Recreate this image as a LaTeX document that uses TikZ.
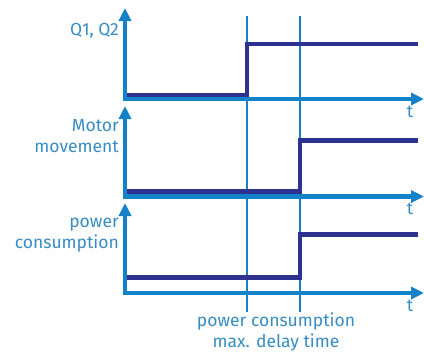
\documentclass[tikz,border=0pt]{standalone}
\usepackage{fontspec}
\setmainfont{Fira Sans}
\usetikzlibrary{arrows.meta}
\definecolor{axisblue}{RGB}{20,130,200}
\definecolor{sigblue}{RGB}{45,50,145}
\definecolor{txtblue}{RGB}{55,140,195}
\tikzset{
  axisline/.style={draw=axisblue,line width=4.5pt,-{Triangle[width=12pt,length=13pt]}},
  sigline/.style={draw=sigblue,line width=4.5pt,line join=miter,line cap=butt},
  markline/.style={draw=axisblue,line width=1.3pt},
  lbl/.style={text=txtblue,font=\fontsize{17.5}{21}\selectfont,inner sep=0pt},
}
\begin{document}
\begin{tikzpicture}[x=1pt,y=-1pt]
\useasboundingbox (0,0) rectangle (424,354);
% marker lines
\coordinate (m1t) at (247,16);
\coordinate (m1b) at (247,312);
\coordinate (m2t) at (300,16);
\coordinate (m2b) at (300,312);
\draw[markline] (m1t) -- (m1b);
\draw[markline] (m2t) -- (m2b);
% panel 1
\coordinate (o1) at (125,99);
\coordinate (y1) at (125,8);
\coordinate (x1) at (424,99);
\draw[axisline] (o1) -- (y1);
\draw[axisline] ([xshift=-2.25pt]o1) -- (x1);
\coordinate (s1a) at (127,95);
\coordinate (s1b) at (247,95);
\coordinate (s1c) at (247,44);
\coordinate (s1d) at (418,44);
\draw[sigline] (s1a) -- (s1b) -- (s1c) -- (s1d);
% panel 2
\coordinate (o2) at (125,196.5);
\coordinate (y2) at (125,106);
\coordinate (x2) at (424,196.5);
\draw[axisline] (o2) -- (y2);
\draw[axisline] ([xshift=-2.25pt]o2) -- (x2);
\coordinate (s2a) at (127,191.5);
\coordinate (s2b) at (300,191.5);
\coordinate (s2c) at (300,140.5);
\coordinate (s2d) at (418,140.5);
\draw[sigline] (s2a) -- (s2b) -- (s2c) -- (s2d);
% panel 3
\coordinate (o3) at (125,293);
\coordinate (y3) at (125,203);
\coordinate (x3) at (424,293);
\draw[axisline] (o3) -- (y3);
\draw[axisline] ([xshift=-2.25pt]o3) -- (x3);
\coordinate (s3a) at (127,277.5);
\coordinate (s3b) at (300,277.5);
\coordinate (s3c) at (300,234.5);
\coordinate (s3d) at (418,234.5);
\draw[sigline] (s3a) -- (s3b) -- (s3c) -- (s3d);
% labels
\node[lbl,anchor=east] (l1) at (119,31) {Q1, Q2};
\node[lbl,anchor=east,align=right] (l2) at (119,136) {Motor\\movement};
\node[lbl,anchor=east,align=right] (l3) at (119,235) {power\\consumption};
\node[lbl] (t1) at (410,112) {t};
\node[lbl] (t2) at (410,209) {t};
\node[lbl] (t3) at (410,306) {t};
\node[lbl,align=center] (b1) at (276,332) {power consumption\\max. delay time};
\end{tikzpicture}
\end{document}
